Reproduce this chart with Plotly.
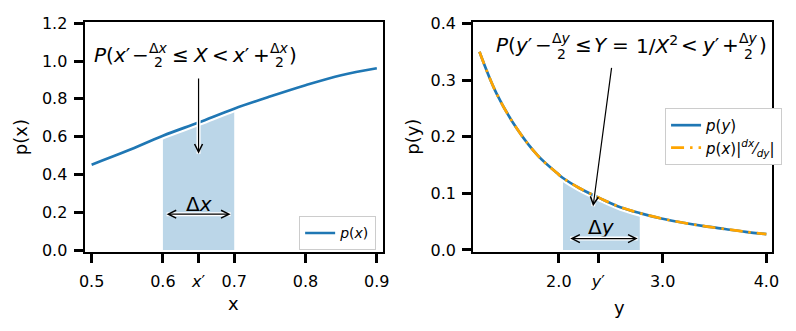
import plotly.graph_objects as go

W, H = 796, 331

# density of X on [0.5, 0.9]
x_vals = [0.50, 0.55, 0.60, 0.65, 0.70, 0.75, 0.80, 0.85, 0.90]
px_vals = [0.452, 0.525, 0.605, 0.675, 0.748, 0.812, 0.872, 0.925, 0.962]

# density of Y = 1/X^2
y_vals = [1.235, 1.4, 1.6, 1.8, 2.0, 2.04, 2.2, 2.4, 2.6, 2.78, 3.0, 3.2, 3.4, 3.6, 3.8, 4.0]
py_vals = [0.350, 0.276, 0.213, 0.166, 0.133, 0.127, 0.109, 0.091, 0.075, 0.065,
           0.055, 0.048, 0.042, 0.037, 0.032, 0.028]

x_ticks = [0.5, 0.6, 0.65, 0.7, 0.8, 0.9]
x_ticktext = ["0.5", "0.6", "<i>x</i>′", "0.7", "0.8", "0.9"]
y_ticks = [2.0, 2.38, 3.0, 4.0]
y_ticktext = ["2.0", "<i>y</i>′", "3.0", "4.0"]

x_lo, x_hi = 0.6, 0.7      # interval around x'
y_lo, y_hi = 2.04, 2.78    # image of that interval

BLUE = "#1f77b4"
ORANGE = "#ffa500"
FILL = "rgba(31,119,180,0.3)"
FONT = "DejaVu Sans"


def pxx(p):
    return p / W


def pxy(p):
    return 1 - p / H


fig = go.Figure()

# ---- left panel: p(x)
sx = [x for x in x_vals if x_lo <= x <= x_hi]
sp = [p for x, p in zip(x_vals, px_vals) if x_lo <= x <= x_hi]
fig.add_trace(go.Scatter(x=sx, y=sp, mode="lines", line=dict(width=0, shape="spline"),
                         fill="tozeroy", fillcolor=FILL, showlegend=False,
                         hoverinfo="skip", xaxis="x", yaxis="y"))
fig.add_trace(go.Scatter(x=x_vals, y=px_vals, mode="lines",
                         line=dict(color="white", width=7, shape="spline"),
                         showlegend=False, hoverinfo="skip", xaxis="x", yaxis="y"))
fig.add_trace(go.Scatter(x=x_vals, y=px_vals, mode="lines", name="<i>p</i>(<i>x</i>)",
                         line=dict(color=BLUE, width=2.7, shape="spline"),
                         xaxis="x", yaxis="y", legend="legend"))

# ---- right panel: p(y)
sy = [y for y in y_vals if y_lo <= y <= y_hi]
sq = [p for y, p in zip(y_vals, py_vals) if y_lo <= y <= y_hi]
fig.add_trace(go.Scatter(x=sy, y=sq, mode="lines", line=dict(width=0, shape="spline"),
                         fill="tozeroy", fillcolor=FILL, showlegend=False,
                         hoverinfo="skip", xaxis="x2", yaxis="y2"))
fig.add_trace(go.Scatter(x=y_vals, y=py_vals, mode="lines",
                         line=dict(color="white", width=7, shape="spline"),
                         showlegend=False, hoverinfo="skip", xaxis="x2", yaxis="y2"))
fig.add_trace(go.Scatter(x=y_vals, y=py_vals, mode="lines", name="<i>p</i>(<i>y</i>)",
                         line=dict(color=BLUE, width=2.7, shape="spline"),
                         xaxis="x2", yaxis="y2", legend="legend2"))
fig.add_trace(go.Scatter(x=y_vals, y=py_vals, mode="lines",
                         name="<i>p</i>(<i>x</i>)|<sup><i>dx</i></sup>⁄<sub><i>dy</i></sub>|",
                         line=dict(color=ORANGE, width=2.7, shape="spline",
                                   dash="13px,6px,2.5px,6px"),
                         xaxis="x2", yaxis="y2", legend="legend2"))

axis_common = dict(
    showline=True, linecolor="black", linewidth=2.2, mirror=True,
    ticks="outside", ticklen=9, tickwidth=3, tickcolor="black",
    showgrid=False, zeroline=False,
    tickfont=dict(family=FONT, size=16, color="black"),
)

fig.update_layout(
    width=W, height=H,
    margin=dict(l=0, r=0, t=0, b=0),
    paper_bgcolor="white", plot_bgcolor="white",
    font=dict(family=FONT, color="black"),
    xaxis=dict(domain=[80 / W, 383 / W], range=[0.4903, 0.9083],
               tickvals=x_ticks, ticktext=x_ticktext, anchor="y",
               ticklabelstandoff=5, **axis_common),
    yaxis=dict(domain=[pxy(256), pxy(15)], range=[-0.008, 1.205],
               tickvals=[0, 0.2, 0.4, 0.6, 0.8, 1.0, 1.2], tickformat=".1f",
               anchor="x", ticklabelstandoff=3, **axis_common),
    xaxis2=dict(domain=[475 / W, 779 / W], range=[1.175, 4.057],
                tickvals=y_ticks, ticktext=y_ticktext, anchor="y2",
                ticklabelstandoff=5, **axis_common),
    yaxis2=dict(domain=[pxy(256), pxy(15)], range=[-0.003, 0.402],
                tickvals=[0, 0.1, 0.2, 0.3, 0.4], tickformat=".1f",
                anchor="x2", ticklabelstandoff=3, **axis_common),
    legend=dict(x=pxx(298), y=pxy(219), xanchor="left", yanchor="top",
                bgcolor="white", bordercolor="#cccccc", borderwidth=1,
                font=dict(family=FONT, size=14, color="black"),
                itemwidth=30, tracegroupgap=0),
    legend2=dict(x=pxx(670), y=pxy(105), xanchor="left", yanchor="top",
                 bgcolor="white", bordercolor="#cccccc", borderwidth=1,
                 font=dict(family=FONT, size=15, color="black"),
                 itemwidth=30, tracegroupgap=0),
    showlegend=True,
)

ann = []


def text_at(x, y, s, size, xanchor="center", angle=0):
    ann.append(dict(xref="paper", yref="paper", x=pxx(x), y=pxy(y), text=s,
                    showarrow=False, xanchor=xanchor, yanchor="middle",
                    borderpad=0, textangle=angle,
                    font=dict(family=FONT, size=size, color="black")))


def statement(pieces, y_main, y_num, y_den, size=20, fsize=14):
    """Lay out a probability statement; ('frac', xc, num) entries stack num over 2."""
    for p in pieces:
        if p[0] == "frac":
            text_at(p[1], y_num, p[2], fsize)
            text_at(p[1], y_den, "2", fsize)
        else:
            text_at(p[1], y_main, p[0], size)


# axis titles
text_at(15, 136, "p(x)", 18, angle=-90)
text_at(231, 311, "x", 18)
text_at(413, 135, "p(y)", 18, angle=-90)
text_at(624, 315, "y", 18)

# P(x' - dx/2 <= X < x' + dx/2)
statement([
    ("<i>P</i>(<i>x</i>′", 108),
    ("−", 137),
    ("frac", 155, "Δ<i>x</i>"),
    ("≤", 177),
    ("<i>X</i>", 198),
    ("<", 218),
    ("<i>x</i>′", 239),
    ("+", 260),
    ("frac", 278, "Δ<i>x</i>"),
    (")", 292),
], y_main=49, y_num=42, y_den=57)

# P(y' - dy/2 <= Y = 1/X^2 < y' + dy/2)
statement([
    ("<i>P</i>(<i>y</i>′", 517),
    ("−", 546),
    ("frac", 565, "Δ<i>y</i>"),
    ("≤", 587),
    ("<i>Y</i>", 605),
    ("=", 625),
    ("1/<i>X</i><sup>2</sup>", 662),
    ("<", 695),
    ("<i>y</i>′", 717),
    ("+", 737),
    ("frac", 755, "Δ<i>y</i>"),
    (")", 770),
], y_main=39, y_num=32, y_den=48)

# interval width labels
ann.append(dict(xref="x", yref="y", x=0.65, y=0.245, text="Δ<i>x</i>", showarrow=False,
                font=dict(family=FONT, size=20, color="black")))
ann.append(dict(xref="x2", yref="y2", x=2.41, y=0.041, text="Δ<i>y</i>", showarrow=False,
                font=dict(family=FONT, size=20, color="black")))


def arrow(xref, yref, hx, hy, tx, ty, both=False):
    # white halo line underneath, then the black arrow
    ann.append(dict(xref=xref, yref=yref, axref=xref, ayref=yref,
                    x=hx, y=hy, ax=tx, ay=ty, text="", showarrow=True,
                    arrowhead=0, arrowwidth=4, arrowcolor="white"))
    ann.append(dict(xref=xref, yref=yref, axref=xref, ayref=yref,
                    x=hx, y=hy, ax=tx, ay=ty, text="", showarrow=True,
                    arrowhead=5, arrowsize=1.3, arrowwidth=1.2, arrowcolor="black",
                    arrowside="end+start" if both else "end",
                    startarrowhead=5, startarrowsize=1.3))


arrow("x", "y", 0.65, 0.51, 0.65, 0.915)
arrow("x", "y", 0.695, 0.19, 0.603, 0.19, both=True)
arrow("x2", "y2", 2.33, 0.077, 2.51, 0.324)
arrow("x2", "y2", 2.76, 0.02, 2.095, 0.02, both=True)

fig.update_layout(annotations=ann)

fig.write_html("out.html")
